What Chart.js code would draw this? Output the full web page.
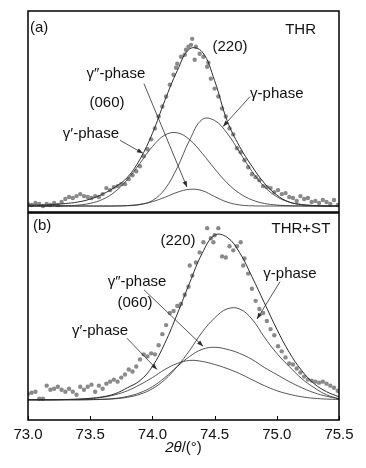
<!DOCTYPE html>
<html>
<head>
<meta charset="utf-8">
<script src="https://cdn.jsdelivr.net/npm/chart.js@4.4.1/dist/chart.umd.min.js"></script>
<style>
    html, body { margin: 0; padding: 0; background: #fff; }
    #wrap { position: relative; width: 366px; height: 468px; }
    canvas { position: absolute; left: 0; }
    #chart-a { top: 0; }
    #chart-b { top: 208px; }
</style>
</head>
<body>
<div id="wrap">
    <canvas id="chart-a" width="366" height="216"></canvas>
    <canvas id="chart-b" width="366" height="260"></canvas>
</div>
<script>
// 2theta grid of the fitted curves
const curveTheta = [73.0, 73.1, 73.2, 73.3, 73.4, 73.5, 73.6, 73.7, 73.8, 73.9, 74.0, 74.1, 74.2,
    74.3, 74.4, 74.5, 74.6, 74.7, 74.8, 74.9, 75.0, 75.1, 75.2, 75.3, 75.4, 75.5];

// (a) THR
const fitA = [1, 1, 1.5, 2.5, 4, 7, 12, 19, 29, 47, 73, 106, 136,
    158, 155, 126, 86, 60, 40, 23, 11, 4, 1.5, 0.5, 0, 0];
const gammaPrimeA = [0, 0, 0.1, 0.3, 0.9, 2.7, 6.7, 14.4, 26.8, 43, 59.7, 71.3, 73.6,
    66.6, 53, 37.5, 23.3, 12.8, 6.2, 2.6, 1, 0.3, 0.1, 0, 0, 0];
const gammaA = [0, 0, 0, 0, 0, 0, 0, 0, 0.3, 1.4, 5.5, 16.9, 38.6,
    66.5, 87, 86, 73.3, 54.3, 34.9, 19.4, 9.4, 3.9, 1.4, 0.4, 0.1, 0];
const gammaDoublePrimeA = [0, 0, 0, 0, 0, 0, 0, 0.1, 0.5, 1.7, 4.4, 8.8, 13.8,
    16.8, 15.5, 9.5, 4, 1.1, 0.2, 0, 0, 0, 0, 0, 0, 0];

// (b) THR+ST
const fitB = [0, 0, 0, 0.3, 0.6, 1.5, 3, 6, 12, 19, 33, 56, 85,
    116, 145, 163, 161, 146, 122, 96, 70, 47, 29, 16, 8, 3];
const gammaPrimeB = [0, 0, 0, 0.2, 0.6, 1.2, 2.5, 5, 9, 15, 22, 30, 36,
    39, 38, 35, 31, 26, 20, 14, 9, 5.5, 3, 1.5, 0.7, 0.3];
const gammaB = [0, 0, 0, 0, 0, 0.1, 0.4, 1, 2.5, 5.5, 11, 20, 33,
    49, 67, 81, 90, 90, 80, 62, 46, 33, 21, 12, 5, 1];
const gammaDoublePrimeB = [0, 0, 0, 0, 0, 0.2, 0.6, 1.4, 3.4, 7, 13, 22, 33,
    43, 50, 52, 50, 46, 40, 32, 25, 18, 12, 7, 3.5, 1];

// measured points
const scanTheta = [73.00, 73.03, 73.06, 73.09, 73.12, 73.15, 73.18, 73.21, 73.24, 73.27,
    73.30, 73.33, 73.36, 73.39, 73.42, 73.45, 73.48, 73.51, 73.54, 73.57,
    73.60, 73.63, 73.66, 73.69, 73.72, 73.75, 73.78, 73.81, 73.84, 73.87,
    73.90, 73.93, 73.96, 73.99, 74.02, 74.05, 74.08, 74.11, 74.14, 74.17,
    74.20, 74.23, 74.26, 74.29, 74.32, 74.35, 74.38, 74.41, 74.44, 74.47,
    74.50, 74.53, 74.56, 74.59, 74.62, 74.65, 74.68, 74.71, 74.74, 74.77,
    74.80, 74.83, 74.86, 74.89, 74.92, 74.95, 74.98, 75.01, 75.04, 75.07,
    75.10, 75.13, 75.16, 75.19, 75.22, 75.25, 75.28, 75.31, 75.34, 75.37,
    75.40, 75.43, 75.46, 75.49];
const scanA = [2, 1, 3, 2, 0, 2, 1, 3, 1, 4,
    7, 9, 8, 10, 12, 10, 9, 8, 10, 9,
    12, 18, 16, 19, 20, 22, 22, 27, 31, 35,
    40, 50, 57, 67, 78, 90, 100, 110, 122, 132,
    143, 150, 152, 160, 168, 160, 153, 150, 140, 128,
    118, 110, 98, 90, 78, 72, 58, 54, 46, 39,
    32, 29, 26, 20, 19, 18, 14, 16, 12, 13,
    9, 8, 5, 10, 7, 8, 4, 5, 3, 6,
    4, 2, 6, 1];
const scanB = [6, 7, 8, 1, 1, 14, 10, 11, 13, 10,
    8, 11, 8, 5, 13, 10, 13, 15, 8, 14,
    11, 16, 18, 20, 18, 22, 25, 30, 28, 33,
    40, 45, 43, 46, 45, 54, 65, 74, 86, 88,
    93, 95, 104, 112, 123, 136, 146, 156, 170, 160,
    163, 170, 142, 141, 152, 148, 152, 156, 140, 125,
    110, 98, 90, 86, 78, 70, 64, 53, 48, 42,
    36, 35, 31, 27, 23, 20, 19, 18, 17, 18,
    16, 14, 12, 9];
const extraThetaA = [74.19, 74.27, 74.31, 74.34, 74.45];
const extraA = [139, 157, 162, 147, 144];
const extraThetaB = [74.21, 74.30, 74.49, 74.73];
const extraB = [93, 133, 156, 133];

const tickValues = [73.0, 73.5, 74.0, 74.5, 75.0, 75.5];
const tickLabels = ["73.0", "73.5", "74.0", "74.5", "75.0", "75.5"];

const FONT = '"Liberation Sans", Arial, sans-serif';
const LINE = "#2b2b2b";

const toPoints = (xs, ys) => xs.map((x, i) => ({ x: x, y: ys[i] }));

const curve = (ys, width) => ({
    data: toPoints(curveTheta, ys),
    borderColor: LINE,
    borderWidth: width,
    pointRadius: 0,
    tension: 0.4,
    fill: false,
});

const dots = (xs, ys) => ({
    data: toPoints(xs, ys),
    showLine: false,
    pointRadius: 2.2,
    pointBackgroundColor: "#8a8a8a",
    pointBorderWidth: 0,
});

// frame, inward ticks, labels and leader arrows
const decor = (notes, arrows, withAxis) => ({
    id: "decor",
    afterDraw(chart) {
        const { ctx, chartArea: a, scales } = chart;
        const px = (v) => scales.x.getPixelForValue(v);
        const py = (v) => scales.y.getPixelForValue(v);
        ctx.save();
        ctx.strokeStyle = "#000";
        ctx.lineWidth = 1.5;
        ctx.strokeRect(a.left, a.top, a.right - a.left, a.bottom - a.top);

        if (withAxis) {
            ctx.lineWidth = 1;
            tickValues.forEach((v) => {
                const x = Math.round(px(v)) + 0.5;
                ctx.beginPath();
                ctx.moveTo(x, a.bottom);
                ctx.lineTo(x, a.bottom - 4);
                ctx.stroke();
            });
            // axis title: italic 2θ, upright /(°)
            const y = a.bottom + 28;
            ctx.fillStyle = "#111";
            ctx.textBaseline = "middle";
            ctx.font = "italic 15px " + FONT;
            const w1 = ctx.measureText("2θ").width;
            ctx.font = "15px " + FONT;
            const w2 = ctx.measureText("/(°)").width;
            const x0 = (a.left + a.right) / 2 - (w1 + w2) / 2;
            ctx.textAlign = "left";
            ctx.font = "italic 15px " + FONT;
            ctx.fillText("2θ", x0, y);
            ctx.font = "15px " + FONT;
            ctx.fillText("/(°)", x0 + w1, y);
        }

        ctx.strokeStyle = LINE;
        ctx.fillStyle = LINE;
        ctx.lineWidth = 0.8;
        arrows.forEach(([x1, y1, x2, y2]) => {
            const sx = px(x1), sy = py(y1), ex = px(x2), ey = py(y2);
            const ang = Math.atan2(ey - sy, ex - sx);
            ctx.beginPath();
            ctx.moveTo(sx, sy);
            ctx.lineTo(ex, ey);
            ctx.stroke();
            ctx.beginPath();
            ctx.moveTo(ex, ey);
            ctx.lineTo(ex - 6 * Math.cos(ang) + 2.2 * Math.sin(ang), ey - 6 * Math.sin(ang) - 2.2 * Math.cos(ang));
            ctx.lineTo(ex - 6 * Math.cos(ang) - 2.2 * Math.sin(ang), ey - 6 * Math.sin(ang) + 2.2 * Math.cos(ang));
            ctx.closePath();
            ctx.fill();
        });

        ctx.fillStyle = "#111";
        ctx.font = "15px " + FONT;
        ctx.textBaseline = "middle";
        notes.forEach((n) => {
            ctx.textAlign = n.align || "center";
            ctx.fillText(n.text, px(n.x), py(n.y));
        });
        ctx.restore();
    },
});

const initPanel = (id, series, scan, extra, yRange, padding, notes, arrows, withAxis) => {
    return new Chart(document.getElementById(id), {
        type: "line",
        data: {
            datasets: [
                curve(series[0], 1),
                curve(series[1], 0.8),
                curve(series[2], 0.8),
                curve(series[3], 0.8),
                dots(scanTheta.concat(extra[0]), scan.concat(extra[1])),
            ],
        },
        options: {
            responsive: false,
            animation: false,
            events: [],
            layout: { padding: padding },
            plugins: {
                legend: { display: false },
                tooltip: { enabled: false },
            },
            scales: {
                x: {
                    type: "linear",
                    min: 73.0,
                    max: 75.5,
                    display: withAxis,
                    grid: { display: false, drawTicks: false },
                    border: { display: false },
                    afterBuildTicks: (scale) => {
                        scale.ticks = tickValues.map((v) => ({ value: v }));
                    },
                    ticks: {
                        autoSkip: false,
                        maxRotation: 0,
                        padding: 6,
                        color: "#111",
                        font: { family: FONT, size: 15 },
                        callback: (v, i) => tickLabels[i],
                    },
                },
                y: {
                    type: "linear",
                    display: false,
                    min: yRange[0],
                    max: yRange[1],
                },
            },
        },
        plugins: [decor(notes, arrows, withAxis)],
    });
};

const notesA = [
    { text: "(a)", x: 73.016, y: 179, align: "left" },
    { text: "THR", x: 75.315, y: 177, align: "right" },
    { text: "(220)", x: 74.624, y: 160 },
    { text: "γ″-phase", x: 73.707, y: 133 },
    { text: "(060)", x: 73.635, y: 104 },
    { text: "γ′-phase", x: 73.506, y: 73 },
    { text: "γ-phase", x: 75.0, y: 113 },
];
const arrowsA = [
    [73.932, 123, 74.278, 19],
    [73.74, 66, 73.924, 53],
    [74.785, 110, 74.568, 80],
];
const notesB = [
    { text: "(b)", x: 73.04, y: 172, align: "left" },
    { text: "THR+ST", x: 75.43, y: 169, align: "right" },
    { text: "(220)", x: 74.206, y: 157 },
    { text: "γ″-phase", x: 73.876, y: 117 },
    { text: "(060)", x: 73.86, y: 96 },
    { text: "γ′-phase", x: 73.579, y: 68 },
    { text: "γ-phase", x: 75.106, y: 125 },
];
const arrowsB = [
    [73.932, 109, 74.407, 53],
    [73.796, 61, 74.037, 30],
    [75.026, 117, 74.841, 80],
];

window.chartA = initPanel("chart-a", [fitA, gammaPrimeA, gammaA, gammaDoublePrimeA],
    scanA, [extraThetaA, extraA], [-6, 196], { top: 11, left: 28, right: 27, bottom: 3 },
    notesA, arrowsA, false);
window.chartB = initPanel("chart-b", [fitB, gammaPrimeB, gammaB, gammaDoublePrimeB],
    scanB, [extraThetaB, extraB], [-20, 185], { top: 5, left: 28, right: 27, bottom: 18 },
    notesB, arrowsB, true);
</script>
</body>
</html>
